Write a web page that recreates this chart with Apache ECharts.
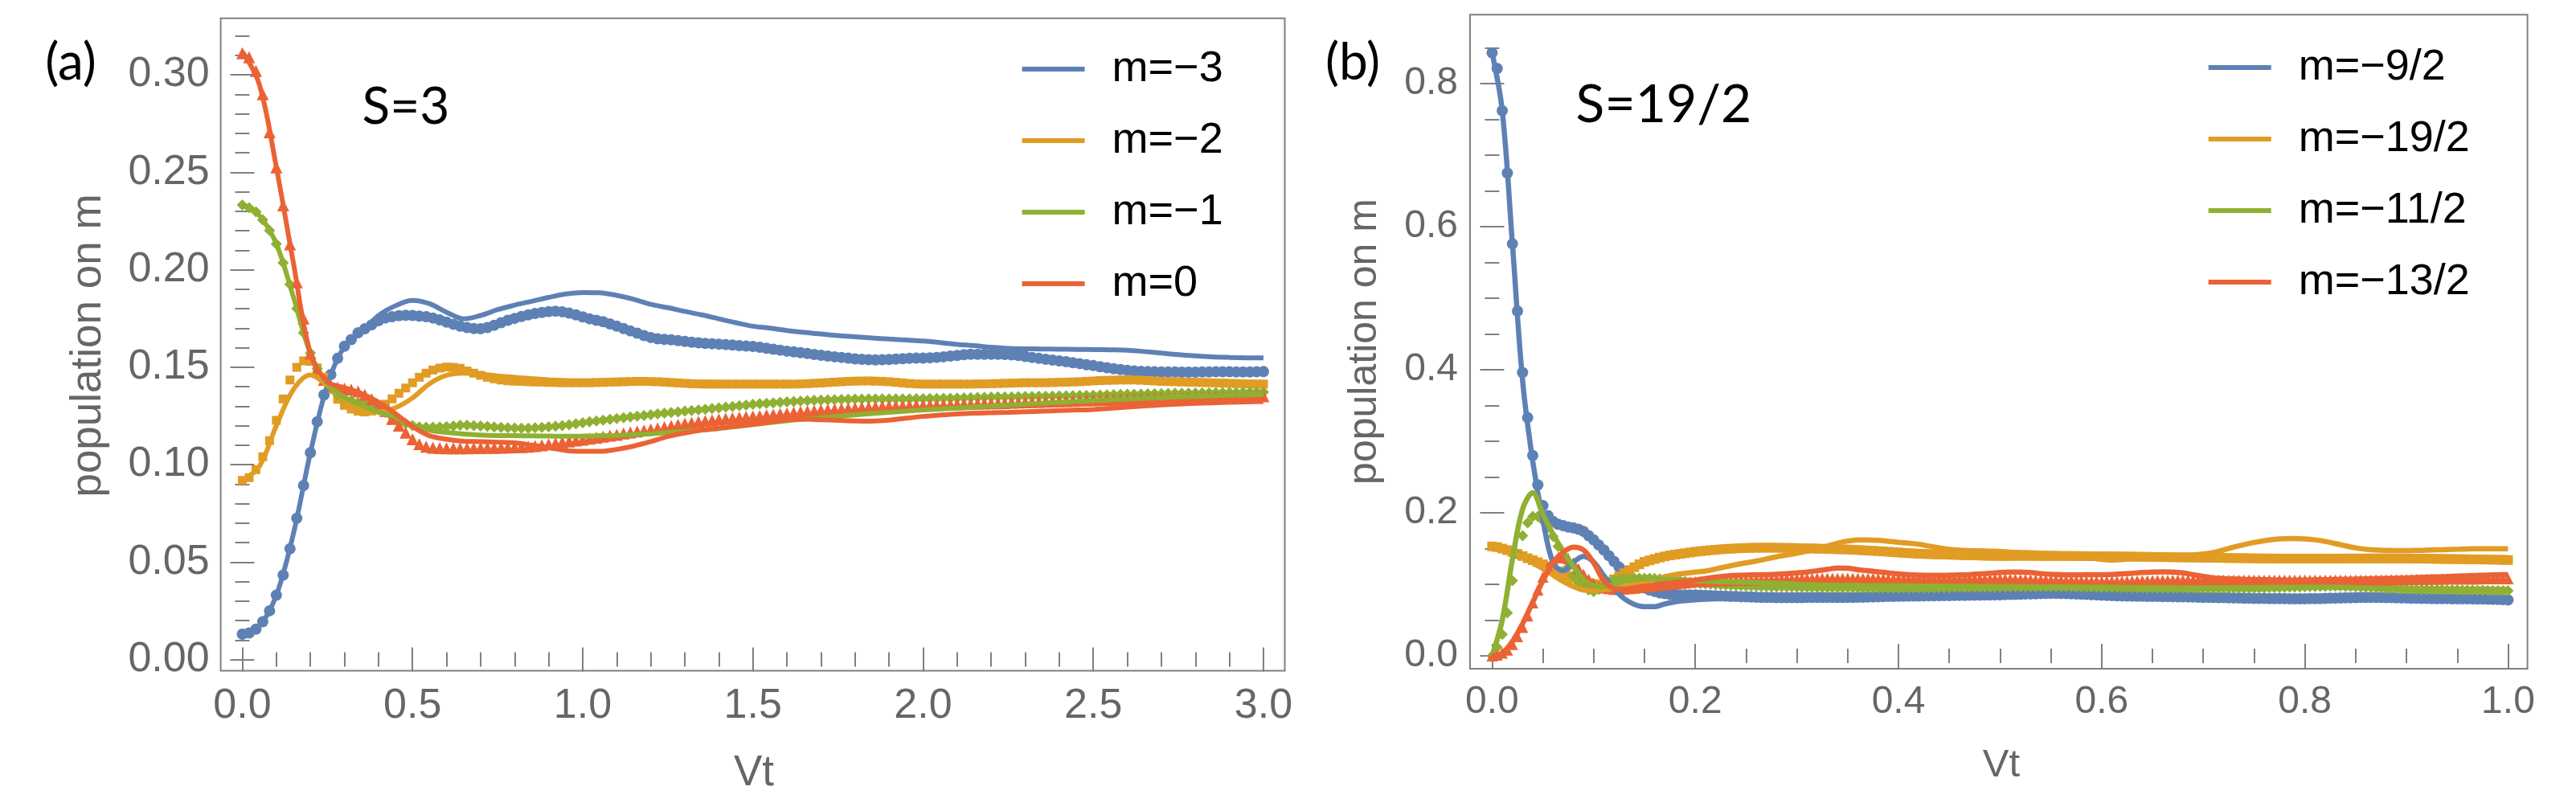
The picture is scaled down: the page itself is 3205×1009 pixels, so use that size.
<!DOCTYPE html>
<html>
<head>
<meta charset="utf-8">
<script src="https://cdn.jsdelivr.net/npm/echarts@6/dist/echarts.min.js"></script>
<style>
  html, body { margin: 0; padding: 0; background: #fff; }
  #chart { width: 3205px; height: 1009px; }
</style>
</head>
<body>
<div id="chart"></div>
<script>
// ---------- panel (a): S=3, Vt 0..3 ----------
// markers every 0.02, lines every 0.05
var aNames = ["m=\u22123", "m=\u22122", "m=\u22121", "m=0"];
var aBluePts = [.013,.0136,.0156,.0194,.025,.033,.0433,.0568,.0725,.0893,
  .1061,.122,.1358,.1462,.1545,.1607,.1641,.1676,.1697,.1717,
  .1738,.1752,.1759,.1764,.1766,.1765,.1762,.1759,.1752,.1742,
  .1731,.172,.171,.1703,.1698,.1697,.1703,.1715,.1728,.174,
  .175,.176,.1768,.1775,.178,.1785,.1787,.1784,.1777,.1768,
  .1758,.1748,.174,.1733,.1722,.171,.1698,.1686,.1674,.1662,
  .1652,.1645,.1642,.164,.1636,.1632,.1628,.1625,.1622,.162,
  .1618,.1616,.1613,.161,.1608,.1606,.1602,.1597,.1592,.1587,
  .1582,.1578,.1574,.157,.1565,.1561,.1557,.1553,.155,.1546,
  .1542,.154,.1538,.1537,.1538,.1539,.1541,.1543,.1545,.1546,
  .1546,.1548,.155,.1553,.1557,.156,.1564,.1566,.1566,.1566,
  .1566,.1566,.1565,.1563,.156,.1555,.155,.1545,.154,.1536,
  .1532,.1528,.1523,.1518,.1512,.1508,.1502,.1497,.1492,.1488,
  .1484,.148,.1478,.1477,.1476,.1475,.1475,.1475,.1474,.1474,
  .1474,.1475,.1475,.1476,.1476,.1476,.1475,.1475,.1475,.1476,
  .1477];
var aOrangePts = [.0919,.0933,.0974,.104,.1123,.1227,.1337,.1434,.1499,.1532,
  .153,.1496,.1448,.139,.1335,.1304,.1285,.1274,.127,.1275,
  .1292,.131,.1337,.1366,.1393,.142,.1448,.1469,.1485,.1495,
  .15,.1499,.1494,.148,.1469,.1458,.1448,.144,.1434,.143,
  .1428,.1427,.1425,.1424,.1423,.1422,.1421,.142,.142,.142,
  .142,.142,.1421,.1422,.1423,.1424,.1425,.1426,.1427,.1427,
  .1426,.1425,.1423,.1421,.1419,.1417,.1415,.1414,.1413,.1413,
  .1413,.1413,.1413,.1413,.1413,.1413,.1413,.1413,.1413,.1413,
  .1413,.1413,.1414,.1415,.1417,.1419,.1421,.1423,.1425,.1427,
  .1428,.1429,.1429,.1428,.1427,.1425,.1422,.1419,.1416,.1414,
  .1413,.1413,.1413,.1413,.1413,.1413,.1413,.1413,.1414,.1414,
  .1415,.1416,.1417,.1418,.1419,.142,.142,.142,.142,.1421,
  .1422,.1423,.1424,.1425,.1427,.1429,.1431,.1432,.1433,.1434,
  .1434,.1434,.1433,.1431,.1429,.1427,.1426,.1425,.1424,.1423,
  .1422,.1421,.142,.1419,.1418,.1417,.1416,.1415,.1414,.1413,
  .1413];
var aGreenPts = [.2332,.2318,.2297,.2256,.2201,.2132,.2035,.1925,.18,.1676,
  .1572,.1493,.1434,.139,.136,.1337,.1328,.132,.131,.1296,
  .128,.1268,.1245,.1225,.121,.12,.1193,.1192,.1192,.1193,
  .1195,.1198,.1202,.1202,.12,.1198,.1196,.1193,.1191,.1189,
  .1188,.1187,.1187,.1189,.1191,.1194,.1197,.12,.1204,.1209,
  .1214,.122,.1224,.1228,.1232,.1236,.124,.1244,.1248,.1252,
  .1256,.126,.1264,.1267,.127,.1274,.1277,.128,.1284,.1288,
  .1291,.1295,.1298,.1302,.1305,.1309,.1312,.1315,.1317,.132,
  .1322,.1324,.1326,.1328,.133,.1331,.1332,.1333,.1334,.1335,
  .1336,.1336,.1337,.1337,.1337,.1337,.1337,.1337,.1337,.1338,
  .1338,.1339,.1339,.134,.134,.1341,.1342,.1343,.1344,.1345,
  .1346,.1347,.1347,.1348,.1349,.135,.135,.1351,.1351,.1352,
  .1353,.1353,.1354,.1355,.1355,.1356,.1357,.1358,.1359,.136,
  .1361,.1361,.1362,.1363,.1364,.1364,.1365,.1366,.1366,.1367,
  .1367,.1368,.1368,.1369,.1369,.137,.137,.1371,.1371,.1372,
  .1372];
var aRedPts = [.311,.309,.302,.29,.2705,.2525,.233,.213,.1935,.175,
  .157,.149,.1435,.1405,.1395,.139,.1385,.1375,.1358,.1335,
  .1305,.1275,.1234,.12,.1164,.113,.1105,.1092,.1087,.1085,
  .1084,.1084,.1084,.1084,.1085,.1085,.1086,.1086,.1087,.1088,
  .1089,.109,.1092,.1095,.1099,.1104,.1109,.1114,.1119,.1124,
  .1128,.1133,.1138,.1143,.1148,.1153,.116,.1165,.117,.1175,
  .118,.1186,.1192,.1198,.1204,.121,.1215,.122,.1224,.1228,
  .1232,.1235,.1238,.1241,.1244,.1247,.125,.1254,.1257,.126,
  .1263,.1267,.127,.1273,.1276,.1279,.1282,.1284,.1286,.1288,
  .129,.1292,.1294,.1296,.1298,.1299,.13,.1301,.1302,.1303,
  .1304,.1305,.1306,.1307,.1308,.1309,.131,.1311,.1312,.1313,
  .1314,.1315,.1316,.1318,.1319,.132,.1321,.1322,.1323,.1324,
  .1325,.1326,.1327,.1328,.1329,.133,.1331,.1332,.1333,.1334,
  .1335,.1336,.1337,.1338,.1339,.134,.1341,.1341,.1342,.1343,
  .1344,.1345,.1345,.1346,.1347,.1347,.1348,.1349,.135,.135,
  .1351];
var aBlueLine = [.013,.0172,.033,.0645,.1061,.141,.1607,.168,.1765,.1815,
  .1842,.1825,.1782,.1748,.1765,.1795,.1818,.1838,.1858,.1875,
  .1883,.1882,.1868,.1848,.1822,.1805,.1786,.1768,.1748,.1728,
  .171,.17,.1688,.1678,.167,.1662,.1656,.165,.1644,.1639,
  .1634,.1626,.1617,.161,.1602,.1596,.1594,.1593,.1592,.1591,
  .159,.1589,.1587,.158,.1572,.1564,.1558,.1553,.155,.1548,
  .1547];
var aOrangeLine = [.092,.099,.12,.1385,.146,.1405,.1335,.1283,.127,.1292,
  .1342,.1415,.1458,.1469,.1464,.1455,.1448,.1441,.1435,.143,
  .1428,.1427,.1427,.1428,.1428,.1427,.1425,.1423,.1422,.1421,
  .142,.142,.142,.1421,.1422,.1424,.1425,.1426,.1425,.1422,
  .142,.1419,.1419,.142,.1421,.1422,.1423,.1424,.1425,.1426,
  .1427,.1428,.1429,.1429,.1428,.1427,.1426,.1425,.1424,.1423,
  .1422];
var aGreenLine = [.2332,.2278,.2132,.186,.157,.1415,.1345,.1305,.127,.1245,
  .1203,.1176,.1165,.1157,.1152,.1149,.1148,.1147,.1146,.1145,
  .1146,.1148,.115,.1154,.1158,.1164,.117,.1177,.1185,.1195,
  .1205,.1215,.1225,.1233,.124,.1248,.1255,.1262,.1268,.1274,
  .128,.1285,.129,.1295,.13,.1305,.131,.1315,.132,.1324,
  .1328,.1332,.1336,.134,.1343,.1347,.135,.1353,.1356,.1358,
  .136];
var aRedLine = [.3119,.295,.2525,.2035,.157,.1425,.1395,.1365,.132,.1261,
  .1195,.1148,.113,.112,.1118,.1115,.1111,.11,.1087,.1072,
  .1068,.1068,.1078,.1095,.1118,.1144,.1162,.1177,.1188,.1197,
  .1206,.1218,.123,.1233,.123,.1227,.1224,.1223,.1228,.1238,
  .1247,.1254,.126,.1264,.1266,.1268,.1271,.1274,.1277,.128,
  .1283,.1289,.1295,.1301,.1306,.131,.1314,.1317,.132,.1322,
  .1324];
var aXMajor = [0, 0.5, 1, 1.5, 2, 2.5, 3];
var aXMinor = [0.1,0.2,0.3,0.4,0.6,0.7,0.8,0.9,1.1,1.2,1.3,1.4,1.6,1.7,1.8,1.9,2.1,2.2,2.3,2.4,2.6,2.7,2.8,2.9];
var aYMajor = [0, 0.05, 0.1, 0.15, 0.2, 0.25, 0.3];
var aYMinor = [0.01,0.02,0.03,0.04,0.06,0.07,0.08,0.09,0.11,0.12,0.13,0.14,0.16,0.17,0.18,0.19,0.21,0.22,0.23,0.24,0.26,0.27,0.28,0.29,0.31,0.32];

// ---------- panel (b): S=19/2, Vt 0..1 ----------
// markers every 0.005, lines every 0.01
var bNames = ["m=\u22129/2", "m=\u221219/2", "m=\u221211/2", "m=\u221213/2"];
var bBluePts = [.843,.821,.762,.675,.576,.482,.396,.333,.28,.239,
  .21,.196,.188,.184,.182,.18,.179,.177,.174,.168,
  .162,.155,.148,.14,.132,.124,.117,.11,.104,.099,
  .095,.092,.09,.088,.087,.086,.086,.085,.085,.085,
  .085,.0848,.0845,.0843,.084,.0838,.0835,.0832,.083,.0827,
  .0825,.0822,.082,.0818,.0817,.0816,.0815,.0815,.0815,.0815,
  .0815,.0815,.0816,.0816,.0816,.0816,.0816,.0817,.0817,.0817,
  .0818,.0818,.0819,.082,.0822,.0824,.0826,.0828,.083,.0832,
  .0833,.0834,.0835,.0836,.0837,.0838,.0839,.084,.0841,.0842,
  .0843,.0844,.0845,.0846,.0847,.0848,.0849,.085,.0851,.0852,
  .0854,.0856,.0858,.086,.0862,.0864,.0866,.0868,.087,.0872,
  .0873,.0873,.0872,.087,.0867,.0864,.0861,.0858,.0855,.0852,
  .0848,.0845,.0842,.084,.0838,.0836,.0835,.0834,.0833,.0832,
  .0831,.083,.0829,.0828,.0827,.0826,.0825,.0824,.0822,.082,
  .0818,.0817,.0816,.0815,.0814,.0812,.081,.0808,.0806,.0805,
  .0804,.0803,.0802,.0801,.08,.08,.0799,.0798,.0798,.0798,
  .0798,.0799,.08,.0801,.0803,.0805,.0807,.0809,.0811,.0813,
  .0815,.0816,.0817,.0817,.0817,.0816,.0815,.0814,.0812,.081,
  .0808,.0806,.0805,.0803,.0802,.0801,.08,.0799,.0799,.0798,
  .0798,.0797,.0797,.0796,.0795,.0794,.0792,.079,.0788,.0785,
  .0782];
var bOrangePts = [.153,.152,.15,.1478,.1452,.1425,.1395,.1365,.1338,.131,
  .128,.125,.1215,.118,.1148,.1115,.1085,.106,.104,.102,
  .1005,.0995,.1,.103,.107,.111,.1155,.12,.124,.128,
  .1315,.1335,.1355,.1375,.139,.1405,.1415,.1425,.1435,.1445,
  .1455,.1463,.147,.1477,.1483,.1489,.1494,.1498,.1502,.1505,
  .1508,.151,.1511,.1512,.1512,.1512,.1511,.151,.1509,.1508,
  .1507,.1505,.1503,.1501,.1499,.1497,.1495,.1493,.1491,.1489,
  .1487,.1483,.148,.1476,.1472,.1468,.1464,.146,.1455,.145,
  .1445,.144,.1436,.1432,.1428,.1425,.1422,.142,.1418,.1416,
  .1414,.1412,.141,.1408,.1406,.1404,.1402,.14,.1399,.1398,
  .1397,.1397,.1397,.1398,.1398,.1398,.1398,.1398,.1397,.1397,
  .1397,.1397,.1397,.1396,.1396,.1395,.1395,.1394,.1394,.1393,
  .1393,.1392,.1391,.139,.1389,.1388,.1387,.1386,.1385,.1384,
  .1383,.1382,.1381,.138,.1379,.1378,.1377,.1376,.1375,.1374,
  .1373,.1372,.1371,.137,.1369,.1368,.1367,.1366,.1365,.1364,
  .1363,.1362,.1362,.1361,.1361,.136,.136,.136,.136,.136,
  .136,.136,.136,.136,.136,.136,.136,.136,.1361,.1361,
  .1361,.1361,.1361,.1362,.1362,.1362,.1362,.1362,.1362,.1361,
  .1361,.136,.136,.1359,.1358,.1357,.1356,.1355,.1354,.1353,
  .1352,.1351,.135,.1349,.1348,.1347,.1346,.1345,.1344,.1342,
  .134];
var bGreenPts = [0,.012,.03,.06,.105,.142,.168,.186,.195,.195,
  .189,.18,.167,.153,.137,.124,.112,.103,.096,.092,
  .09,.093,.098,.103,.106,.107,.108,.108,.1085,.1085,
  .1085,.1083,.108,.1075,.107,.1062,.1054,.1046,.1038,.103,
  .1022,.1015,.1009,.1003,.0998,.0993,.0989,.0985,.0982,.0979,
  .0976,.0974,.0972,.097,.0968,.0967,.0966,.0965,.0964,.0963,
  .0962,.0961,.096,.0959,.0958,.0957,.0956,.0955,.0955,.0954,
  .0954,.0953,.0953,.0952,.0952,.0951,.0951,.095,.095,.0949,
  .0949,.0948,.0948,.0948,.0948,.0948,.0949,.095,.0951,.0952,
  .0953,.0954,.0955,.0956,.0957,.0958,.0959,.096,.0961,.0962,
  .0963,.0964,.0965,.0965,.0966,.0966,.0966,.0966,.0966,.0966,
  .0966,.0966,.0966,.0965,.0964,.0963,.0962,.0961,.096,.0959,
  .0958,.0957,.0956,.0955,.0954,.0953,.0952,.0951,.095,.0949,
  .0948,.0947,.0947,.0947,.0947,.0947,.0947,.0947,.0947,.0947,
  .0947,.0947,.0947,.0947,.0947,.0947,.0947,.0947,.0947,.0947,
  .0947,.0948,.095,.0952,.0954,.0956,.0958,.096,.0962,.0964,
  .0966,.0968,.097,.0972,.0973,.0974,.0974,.0974,.0973,.0971,
  .0968,.0965,.0961,.0957,.0953,.0949,.0945,.0941,.0937,.0934,
  .0931,.0929,.0928,.0927,.0926,.0925,.0924,.0923,.0922,.0921,
  .092,.0919,.0918,.0917,.0916,.0915,.0914,.0913,.0912,.0911,
  .091];
var bRedPts = [0,.001,.004,.008,.016,.027,.04,.056,.074,.092,
  .11,.124,.133,.137,.138,.136,.13,.122,.114,.107,
  .101,.097,.095,.094,.093,.093,.0935,.094,.0947,.0955,
  .0963,.097,.0978,.0985,.0993,.1,.1008,.1015,.102,.1028,
  .1035,.104,.1043,.1046,.1048,.105,.1052,.1054,.1056,.1058,
  .106,.1061,.1062,.1064,.1066,.1068,.107,.1072,.1074,.1076,
  .1078,.108,.1081,.1082,.1083,.1084,.1085,.1085,.1085,.1085,
  .1085,.1084,.1083,.1082,.1081,.108,.1079,.1078,.1077,.1076,
  .1075,.1074,.1073,.1072,.1071,.1071,.107,.107,.107,.107,
  .107,.1071,.1071,.1072,.1072,.1073,.1073,.1074,.1074,.1075,
  .1075,.1074,.1072,.107,.1068,.1066,.1064,.1063,.1062,.1061,
  .106,.1058,.1056,.1054,.1052,.105,.1048,.1046,.1045,.1044,
  .1043,.1042,.1042,.1042,.1043,.1044,.1045,.1047,.1049,.1051,
  .1053,.1055,.1056,.1057,.1058,.1059,.106,.106,.106,.106,
  .106,.106,.106,.106,.106,.106,.106,.106,.106,.106,
  .106,.106,.106,.106,.106,.106,.106,.106,.106,.106,
  .106,.106,.106,.106,.106,.106,.106,.106,.106,.106,
  .106,.106,.106,.106,.1061,.1062,.1063,.1064,.1065,.1066,
  .1067,.1068,.1069,.107,.1071,.1072,.1073,.1074,.1075,.1075,
  .1075,.1076,.1076,.1077,.1077,.1078,.1078,.1078,.1079,.1079,
  .1079];
var bBlueLine = [.843,.762,.576,.385,.272,.19,.13,.119,.131,.139,
  .131,.112,.094,.08,.072,.0688,.0688,.0725,.0755,.0772,
  .0783,.0792,.0798,.0802,.0805,.0806,.0806,.0805,.0804,.0803,
  .0803,.0803,.0804,.0805,.0806,.0808,.081,.0813,.0816,.082,
  .0824,.0828,.0832,.0835,.0838,.0841,.0844,.0846,.0848,.085,
  .0852,.0854,.0856,.0858,.086,.0862,.0862,.086,.0857,.0853,
  .0849,.0845,.0841,.0838,.0835,.0833,.0831,.083,.0828,.0826,
  .0824,.0822,.082,.0818,.0816,.0814,.0812,.0811,.081,.081,
  .081,.0811,.0813,.0815,.0818,.082,.0822,.0822,.0821,.082,
  .0818,.0816,.0814,.0812,.081,.0808,.0806,.0804,.0802,.08,
  .0798];
var bOrangeLine = [.153,.15,.145,.138,.13,.122,.113,.104,.097,.092,
  .0915,.0925,.094,.0965,.1005,.104,.107,.1105,.1135,.1155,
  .1172,.1185,.1215,.1245,.1275,.13,.1325,.1355,.1385,.141,
  .1435,.1465,.1495,.1535,.1575,.1605,.162,.1622,.1615,.1602,
  .1588,.1575,.156,.1535,.151,.149,.1478,.1472,.1468,.1464,
  .146,.145,.1445,.144,.1435,.143,.1425,.1415,.14,.137,
  .1348,.134,.1345,.136,.138,.139,.1395,.14,.1405,.141,
  .1425,.1445,.148,.152,.1555,.1585,.161,.1628,.1638,.164,
  .1635,.1622,.16,.157,.1538,.151,.149,.148,.1475,.1472,
  .1472,.1474,.1478,.1482,.1486,.149,.1494,.1497,.1498,.1498,
  .1497];
var bGreenLine = [0,.05,.135,.205,.228,.198,.17,.146,.125,.107,
  .098,.097,.1,.104,.107,.108,.1075,.107,.1065,.106,
  .105,.1045,.104,.1035,.103,.103,.1025,.102,.1015,.101,
  .1,.0995,.099,.0988,.0985,.0983,.0982,.098,.098,.098,
  .098,.0978,.0976,.0975,.0974,.0973,.0972,.0971,.097,.097,
  .097,.0968,.0966,.0965,.0964,.0963,.0962,.0961,.096,.096,
  .096,.0958,.0956,.0955,.0954,.0953,.0952,.0951,.095,.095,
  .095,.0951,.0952,.0953,.0954,.0955,.0956,.0957,.0958,.0959,
  .096,.096,.096,.0958,.0955,.0952,.0949,.0946,.0943,.094,
  .0938,.0936,.0935,.0934,.0933,.0932,.0932,.0931,.0931,.093,
  .093];
var bRedLine = [0,.004,.02,.045,.075,.105,.13,.145,.152,.148,
  .13,.105,.094,.093,.095,.097,.099,.101,.1025,.1042,
  .106,.108,.11,.1116,.1125,.113,.1133,.1135,.114,.115,
  .116,.1172,.119,.121,.1228,.1225,.1205,.119,.1175,.116,
  .1145,.1135,.1128,.1125,.1125,.1128,.1132,.1136,.1145,.1155,
  .1165,.117,.1172,.1165,.115,.114,.1135,.1133,.1133,.1134,
  .1135,.1138,.1145,.1155,.1165,.1172,.1174,.1172,.116,.1135,
  .111,.109,.108,.1075,.107,.1067,.1065,.1062,.106,.106,
  .106,.1062,.1065,.1068,.107,.1073,.1076,.1079,.1082,.1085,
  .109,.1095,.11,.1105,.111,.1116,.112,.1125,.113,.1133,
  .1135];
var bXMajor = [0, 0.2, 0.4, 0.6, 0.8, 1];
var bXMinor = [0.05,0.1,0.15,0.25,0.3,0.35,0.45,0.5,0.55,0.65,0.7,0.75,0.85,0.9,0.95];
var bYMajor = [0, 0.2, 0.4, 0.6, 0.8];
var bYMinor = [0.05,0.1,0.15,0.25,0.3,0.35,0.45,0.5,0.55,0.65,0.7,0.75,0.85];

(function () {
  var COLORS = ["#5E81B5", "#E19C24", "#8FB032", "#EB6235"];
  var MARKS = ["circle", "rect", "diamond", "triangle"];
  var FRAME = "#808080";

  // sample times (regular grids the curves were sampled on)
  function seq(step, n) {
    var out = [];
    for (var i = 0; i < n; i++) out.push(+(i * step).toFixed(4));
    return out;
  }
  function zip(ts, vs) {
    return ts.map(function (t, i) { return [t, vs[i]]; });
  }

  // four axes per side pair: labelled major ticks, minor ticks, mirrored on the far side
  function axisSet(grid, dim, min, max, major, minor, digits, fontSize, margin) {
    var near = dim === "x" ? "bottom" : "left";
    var far = dim === "x" ? "top" : "right";
    var specs = [[near, major, 15, true], [near, minor, 9, false], [far, major, 15, false], [far, minor, 9, false]];
    return specs.map(function (s) {
      return {
        gridIndex: grid, type: "value", position: s[0], min: min, max: max,
        axisLine: { show: false },
        splitLine: { show: false },
        axisTick: { show: true, inside: true, length: s[2], customValues: s[1],
          lineStyle: { color: FRAME, width: 2 } },
        axisLabel: { show: s[3], customValues: s[1], margin: margin, fontSize: fontSize,
          fontFamily: "Liberation Sans", color: "#666",
          formatter: function (v) { return v.toFixed(digits); } }
      };
    });
  }

  function panelSeries(axisIdx, names, tLine, lines, tPts, pts, lineWidth, sizes) {
    var out = [];
    // solid curves first, markers drawn over them
    lines.forEach(function (vals, k) {
      out.push({
        name: names[k], type: "line", xAxisIndex: axisIdx, yAxisIndex: axisIdx,
        data: zip(tLine, vals), showSymbol: false, symbol: "none", smooth: 0.35,
        color: COLORS[k],
        lineStyle: { width: lineWidth, color: COLORS[k] },
        itemStyle: { color: COLORS[k] }
      });
    });
    pts.forEach(function (vals, k) {
      out.push({
        name: names[k] + " pts", type: "scatter", xAxisIndex: axisIdx, yAxisIndex: axisIdx,
        data: zip(tPts, vals), symbol: MARKS[k], symbolSize: sizes[k],
        itemStyle: { color: COLORS[k], opacity: 1 }
      });
    });
    return out;
  }

  function legendFor(names, left, top) {
    return {
      data: names, orient: "vertical", left: left, top: top, padding: 0,
      icon: "rect", itemWidth: 78, itemHeight: 6, itemGap: 35, selectedMode: false,
      textStyle: { fontSize: 54, fontFamily: "Liberation Sans", color: "#000",
        lineHeight: 52, padding: [0, 0, 0, 29] }
    };
  }

  function label(text, x, y, size, family, color, rot) {
    return {
      type: "text", x: x, y: y, rotation: rot || 0, silent: true,
      style: { text: text, fontSize: size, fontFamily: family, fill: color,
        align: "center", verticalAlign: "middle", textAlign: "center", textVerticalAlign: "middle" }
    };
  }

  var chart = echarts.init(document.getElementById("chart"));
  var option = {
    animation: false,
    backgroundColor: "#fff",
    grid: [
      { left: 274.6, top: 22.7, width: 1323.9, height: 811.8, show: true,
        borderColor: FRAME, borderWidth: 2, backgroundColor: "transparent" },
      { left: 1829, top: 18.3, width: 1315.6, height: 813.7, show: true,
        borderColor: FRAME, borderWidth: 2, backgroundColor: "transparent" }
    ],
    xAxis: axisSet(0, "x", -0.0635, 3.0626, aXMajor, aXMinor, 1, 52, 18)
      .concat(axisSet(1, "x", -0.0217, 1.0191, bXMajor, bXMinor, 1, 48, 18)),
    yAxis: axisSet(0, "y", -0.00577, 0.329, aYMajor, aYMinor, 2, 52, 14)
      .concat(axisSet(1, "y", -0.018, 0.8963, bYMajor, bYMinor, 1, 48, 15)),
    legend: [legendFor(aNames, 1271.6, 59), legendFor(bNames, 2747.7, 57)],
    series: panelSeries(0, aNames, seq(0.05, 61), [aBlueLine, aOrangeLine, aGreenLine, aRedLine],
        seq(0.02, 151), [aBluePts, aOrangePts, aGreenPts, aRedPts], 6, [14, 11, 14, 15])
      .concat(panelSeries(4, bNames, seq(0.01, 101), [bBlueLine, bOrangeLine, bGreenLine, bRedLine],
        seq(0.005, 201), [bBluePts, bOrangePts, bGreenPts, bRedPts], 6.5, [14, 12, 14, 14])),
    graphic: [
      label("(a)", 88, 78, 64, "Lato", "#000"),
      label("S=3", 505, 133, 64, "Lato", "#000"),
      label("(b)", 1683, 78, 64, "Lato", "#000"),
      label("S=19/2", 2070, 131, 66, "Lato", "#000"),
      label("population on m", 110, 430, 53, "Liberation Sans", "#666", Math.PI / 2),
      label("Vt", 938, 962, 53, "Liberation Sans", "#666"),
      label("population on m", 1698, 425, 50, "Liberation Sans", "#666", Math.PI / 2),
      label("Vt", 2490, 952, 49, "Liberation Sans", "#666")
    ]
  };
  chart.setOption(option);
  window.addEventListener("resize", function () { chart.resize(); });
})();
</script>
</body>
</html>
